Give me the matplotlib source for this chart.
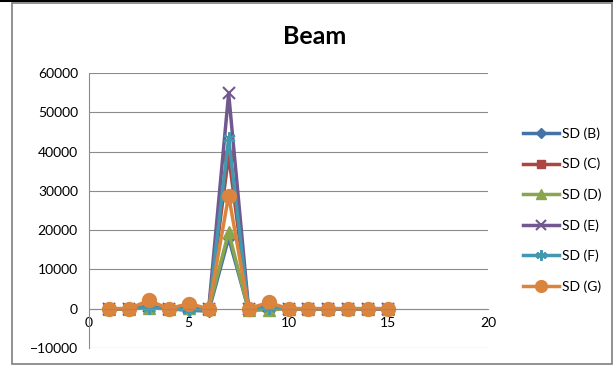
import matplotlib
matplotlib.use("Agg")
import matplotlib.pyplot as plt
from matplotlib.patches import Rectangle
from matplotlib.lines import Line2D

# Excel 2007 default palette
BLUE = "#4572A7"
RED = "#AA4643"
GREEN = "#89A54E"
PURPLE = "#71588F"
CYAN = "#4198AF"
ORANGE = "#DB843D"
GRID = "#8c8c8c"

plt.rcParams["font.family"] = ["Lato", "DejaVu Sans"]

X = list(range(1, 16))
SD_B = [0, 0, 300, 0, -400, -600, 18000, -300, 200, 0, 0, 0, 0, 0, 0]
SD_C = [0, 0, 500, 0, 300, 0, 39000, 0, 500, 0, 0, 0, 0, 0, 0]
SD_D = [0, 0, 200, 0, 100, 0, 19500, -400, -300, 0, 0, 0, 0, 0, 0]
SD_E = [0, 0, 600, 0, 400, 0, 54800, 0, 600, 0, 0, 0, 0, 0, 0]
SD_F = [0, 0, 300, 0, -300, -400, 43400, -300, 300, 0, 0, 0, 0, 0, 0]
SD_G = [0, 0, 2100, 0, 1300, 0, 28800, 0, 1600, 0, 0, 0, 0, 0, 0]
LABELS = ["SD (B)", "SD (C)", "SD (D)", "SD (E)", "SD (F)", "SD (G)"]

series = [
    (SD_B, BLUE, "D", 6),
    (SD_C, RED, "s", 7),
    (SD_D, GREEN, "^", 8),
    (SD_E, PURPLE, "x", 9),
    (SD_F, CYAN, (6, 2, 0), 9),
    (SD_G, ORANGE, "o", 10),
]

fig = plt.figure(figsize=(6.15, 3.66), dpi=100)
ax = fig.add_axes([89 / 615, 18 / 366, 399 / 615, 275 / 366])

handles = []
for (ys, col, mk, ms), lab in zip(series, LABELS):
    h, = ax.plot(X, ys, color=col, lw=2.5, marker=mk, ms=ms,
                 mew=1.5 if mk in ("x", (6, 2, 0)) else 1,
                 mec=col, mfc=col, label=lab, solid_joinstyle="round")
    handles.append(h)

ax.set_xlim(0, 20)
ax.set_ylim(-10000, 60000)
ax.set_yticks(range(-10000, 60001, 10000))
ax.set_xticks(range(0, 21, 5))
ax.grid(axis="y", color=GRID, lw=0.8)
ax.set_axisbelow(True)
for s in ("top", "right"):
    ax.spines[s].set_visible(False)
ax.spines["bottom"].set_position(("data", 0))
ax.spines["bottom"].set_color(GRID)
ax.spines["left"].set_color(GRID)
ax.tick_params(length=0, labelsize=10, colors="black")
ax.tick_params(axis="x", pad=6)
ax.tick_params(axis="y", pad=8)

fig.text(0.512, 0.9, "Beam", ha="center", va="center", fontsize=18, fontweight="bold")

fig.legend(handles=handles, loc="center left", bbox_to_anchor=(0.83, 0.426),
           frameon=False, fontsize=10, handlelength=2.6, handletextpad=0.2,
           labelspacing=1.3, markerscale=0.85)

# chart area border plus the spreadsheet cell line above it
fig.patches.append(Rectangle((12 / 615, 2 / 366), 600 / 615, 361 / 366,
                             transform=fig.transFigure, fill=False,
                             edgecolor="#7f7f7f", lw=1.2))
fig.lines.append(Line2D([0, 612 / 615], [365 / 366, 365 / 366],
                        transform=fig.transFigure, color="black", lw=1.5))

fig.savefig("out.png", dpi=100)
